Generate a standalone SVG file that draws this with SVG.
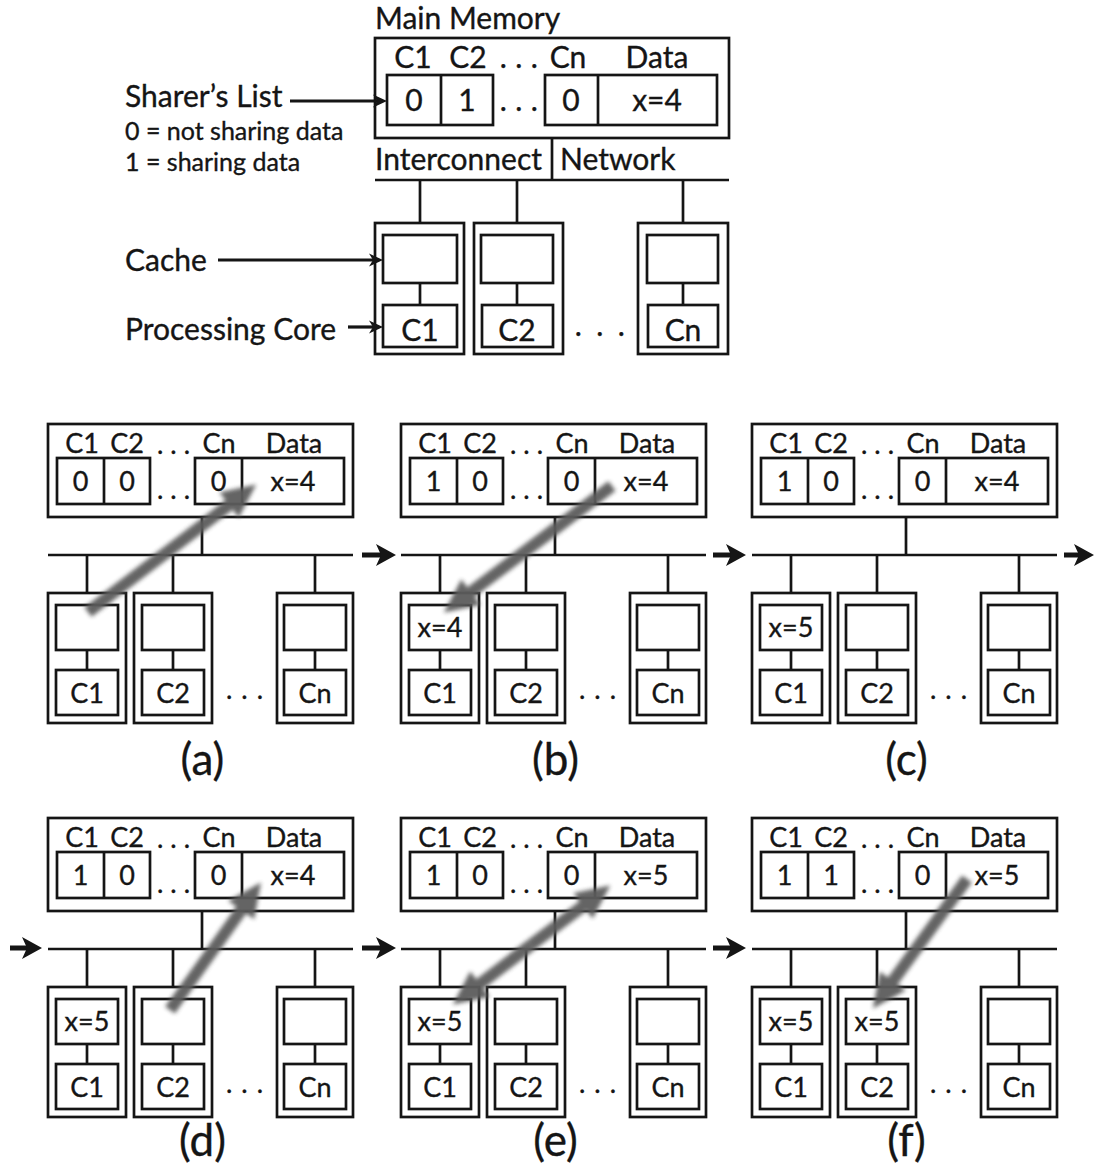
<svg xmlns="http://www.w3.org/2000/svg" width="1094" height="1176" viewBox="0 0 1094 1176">
<style>
.bx{fill:none;stroke:#151515;stroke-width:2.7}
.ln{fill:none;stroke:#151515;stroke-width:2.7}
.t{font-family:Lato,'Open Sans','Liberation Sans',sans-serif;fill:#151515;stroke:#151515;stroke-width:0.35}
.L{font-size:30px}
.S{font-size:25px}
.T{font-size:30px;text-anchor:middle}
.P{font-size:27px;text-anchor:middle}
.cap{font-size:44px;text-anchor:middle}
.d1{letter-spacing:8.5px}
.d2{letter-spacing:14.5px}
.d3{letter-spacing:7px}
.d4{letter-spacing:9px}
.ar{fill:none;stroke:#151515;stroke-width:3.2}
.big{fill:none;stroke:#151515;stroke-width:5}
.gr{fill:none;stroke:#5c5c5c;stroke-width:12}
</style>
<defs>
<marker id="mSmall" markerUnits="userSpaceOnUse" viewBox="0 0 14 14" markerWidth="14" markerHeight="14" refX="4" refY="7" orient="auto">
<path d="M0,0.5 L14,7 L0,13.5 L4,7 z" fill="#151515"/>
</marker>
<marker id="mBig" markerUnits="userSpaceOnUse" viewBox="0 0 20 22" markerWidth="20" markerHeight="22" refX="5" refY="11" orient="auto">
<path d="M0,0 L20,11 L0,22 L5,11 z" fill="#151515"/>
</marker>
<marker id="mGray" markerUnits="userSpaceOnUse" viewBox="0 0 34 32" markerWidth="34" markerHeight="32" refX="10" refY="16" orient="auto">
<path d="M0,0 L34,16 L0,32 z" fill="#5c5c5c"/>
</marker>
<filter id="soft" x="-20%" y="-20%" width="140%" height="140%">
<feGaussianBlur stdDeviation="2"/>
</filter>
</defs>
<rect width="1094" height="1176" fill="#fff"/>

<!-- ===== Top legend diagram ===== -->
<g id="legend">
<g id="legend-labels">
<text class="t L" x="125" y="107">Sharer’s List</text>
<text class="t S" x="125" y="140">0 = not sharing data</text>
<text class="t S" x="125" y="171">1 = sharing data</text>
<text class="t L" x="125" y="271">Cache</text>
<text class="t L" x="125" y="340">Processing Core</text>
</g>
<g id="top-memory">
<text class="t L" x="375" y="29">Main Memory</text>
<rect class="bx" x="375" y="38" width="354" height="100"/>
<text class="t T" x="413" y="68">C1</text>
<text class="t T" x="468" y="68">C2</text>
<text class="t T d1" x="523" y="68">...</text>
<text class="t T" x="568" y="68">Cn</text>
<text class="t T" x="657" y="68">Data</text>
<rect class="bx" x="387" y="75" width="106" height="50"/>
<line class="ln" x1="441" y1="75" x2="441" y2="125"/>
<rect class="bx" x="545" y="75" width="172" height="50"/>
<line class="ln" x1="598" y1="75" x2="598" y2="125"/>
<text class="t T" x="414" y="111">0</text>
<text class="t T" x="467" y="111">1</text>
<text class="t T d1" x="523" y="111">...</text>
<text class="t T" x="571" y="111">0</text>
<text class="t T" x="657" y="111">x=4</text>
</g>
<text class="t L" x="375" y="170">Interconnect</text>
<text class="t L" x="560" y="170">Network</text>
<g id="top-core1">
<rect class="bx" x="375" y="223" width="89" height="131"/>
<rect class="bx" x="383" y="235" width="74" height="48"/>
<rect class="bx" x="383" y="305" width="74" height="42"/>
<line class="ln" x1="420" y1="283" x2="420" y2="305"/>
<text class="t T" x="420" y="341">C1</text>
</g>
<g id="top-core2">
<rect class="bx" x="474" y="223" width="89" height="131"/>
<rect class="bx" x="481" y="235" width="72" height="48"/>
<rect class="bx" x="482" y="305" width="71" height="42"/>
<line class="ln" x1="517" y1="283" x2="517" y2="305"/>
<text class="t T" x="517" y="341">C2</text>
</g>
<text class="t T d2" x="607" y="336">...</text>
<g id="top-coren">
<rect class="bx" x="638" y="223" width="90" height="131"/>
<rect class="bx" x="647" y="235" width="71" height="48"/>
<rect class="bx" x="648" y="305" width="70" height="42"/>
<line class="ln" x1="683" y1="283" x2="683" y2="305"/>
<text class="t T" x="683" y="341">Cn</text>
</g>
<g id="top-connectors">
<line class="ln" x1="552" y1="138" x2="552" y2="180"/>
<line class="ln" x1="375" y1="180" x2="729" y2="180"/>
<line class="ln" x1="420" y1="180" x2="420" y2="223"/>
<line class="ln" x1="517" y1="180" x2="517" y2="223"/>
<line class="ln" x1="683" y1="180" x2="683" y2="223"/>
<path class="ar" d="M290,101 H377" marker-end="url(#mSmall)"/>
<path class="ar" d="M218,260 H373" marker-end="url(#mSmall)"/>
<path class="ar" d="M348,327 H373" marker-end="url(#mSmall)"/>
</g>
</g>

<!-- ===== Panel (a) ===== -->
<g id="panel-a" transform="translate(48,424)">
<g id="a-memory">
<rect class="bx" x="0" y="0" width="305" height="93"/>
<text class="t P" x="34" y="29">C1</text><text class="t P" x="79" y="29">C2</text>
<text class="t P d3" x="129" y="30">...</text>
<text class="t P" x="171" y="29">Cn</text><text class="t P" x="246" y="29">Data</text>
<rect class="bx" x="9" y="34" width="93" height="46"/><line class="ln" x1="56" y1="34" x2="56" y2="80"/>
<rect class="bx" x="147" y="34" width="149" height="46"/><line class="ln" x1="194" y1="34" x2="194" y2="80"/>
<text class="t P" x="32.5" y="67">0</text><text class="t P" x="79" y="67">0</text>
<text class="t P d3" x="129" y="75">...</text>
<text class="t P" x="170.5" y="67">0</text><text class="t P" x="245" y="67">x=4</text>
</g>
<g id="a-core1"><rect class="bx" x="0" y="169" width="78" height="130"/><rect class="bx" x="8" y="181" width="62" height="45"/><rect class="bx" x="8" y="246" width="62" height="45"/><line class="ln" x1="39" y1="226" x2="39" y2="246"/><text class="t P" x="39" y="279">C1</text></g>
<g id="a-core2"><rect class="bx" x="86" y="169" width="78" height="130"/><rect class="bx" x="94" y="181" width="62" height="45"/><rect class="bx" x="94" y="246" width="62" height="45"/><line class="ln" x1="125" y1="226" x2="125" y2="246"/><text class="t P" x="125" y="279">C2</text></g>
<text class="t P d4" x="201" y="275">...</text>
<g id="a-coren"><rect class="bx" x="229" y="169" width="76" height="130"/><rect class="bx" x="236" y="181" width="62" height="45"/><rect class="bx" x="236" y="246" width="62" height="45"/><line class="ln" x1="267" y1="226" x2="267" y2="246"/><text class="t P" x="267" y="279">Cn</text></g>
<g id="a-links"><line class="ln" x1="154" y1="93" x2="154" y2="131"/><line class="ln" x1="0" y1="131" x2="305" y2="131"/><line class="ln" x1="39" y1="131" x2="39" y2="169"/><line class="ln" x1="125" y1="131" x2="125" y2="169"/><line class="ln" x1="267" y1="131" x2="267" y2="169"/></g>
<text class="t cap" x="154.5" y="351">(a)</text>
</g>

<!-- ===== Panel (b) ===== -->
<g id="panel-b" transform="translate(401,424)">
<g id="b-memory">
<rect class="bx" x="0" y="0" width="305" height="93"/>
<text class="t P" x="34" y="29">C1</text><text class="t P" x="79" y="29">C2</text>
<text class="t P d3" x="129" y="30">...</text>
<text class="t P" x="171" y="29">Cn</text><text class="t P" x="246" y="29">Data</text>
<rect class="bx" x="9" y="34" width="93" height="46"/><line class="ln" x1="56" y1="34" x2="56" y2="80"/>
<rect class="bx" x="147" y="34" width="149" height="46"/><line class="ln" x1="194" y1="34" x2="194" y2="80"/>
<text class="t P" x="32.5" y="67">1</text><text class="t P" x="79" y="67">0</text>
<text class="t P d3" x="129" y="75">...</text>
<text class="t P" x="170.5" y="67">0</text><text class="t P" x="245" y="67">x=4</text>
</g>
<g id="b-core1"><rect class="bx" x="0" y="169" width="78" height="130"/><rect class="bx" x="8" y="181" width="62" height="45"/><rect class="bx" x="8" y="246" width="62" height="45"/><line class="ln" x1="39" y1="226" x2="39" y2="246"/><text class="t P" x="39" y="213">x=4</text><text class="t P" x="39" y="279">C1</text></g>
<g id="b-core2"><rect class="bx" x="86" y="169" width="78" height="130"/><rect class="bx" x="94" y="181" width="62" height="45"/><rect class="bx" x="94" y="246" width="62" height="45"/><line class="ln" x1="125" y1="226" x2="125" y2="246"/><text class="t P" x="125" y="279">C2</text></g>
<text class="t P d4" x="201" y="275">...</text>
<g id="b-coren"><rect class="bx" x="229" y="169" width="76" height="130"/><rect class="bx" x="236" y="181" width="62" height="45"/><rect class="bx" x="236" y="246" width="62" height="45"/><line class="ln" x1="267" y1="226" x2="267" y2="246"/><text class="t P" x="267" y="279">Cn</text></g>
<g id="b-links"><line class="ln" x1="154" y1="93" x2="154" y2="131"/><line class="ln" x1="0" y1="131" x2="305" y2="131"/><line class="ln" x1="39" y1="131" x2="39" y2="169"/><line class="ln" x1="125" y1="131" x2="125" y2="169"/><line class="ln" x1="267" y1="131" x2="267" y2="169"/></g>
<text class="t cap" x="154.5" y="351">(b)</text>
</g>

<!-- ===== Panel (c) ===== -->
<g id="panel-c" transform="translate(752,424)">
<g id="c-memory">
<rect class="bx" x="0" y="0" width="305" height="93"/>
<text class="t P" x="34" y="29">C1</text><text class="t P" x="79" y="29">C2</text>
<text class="t P d3" x="129" y="30">...</text>
<text class="t P" x="171" y="29">Cn</text><text class="t P" x="246" y="29">Data</text>
<rect class="bx" x="9" y="34" width="93" height="46"/><line class="ln" x1="56" y1="34" x2="56" y2="80"/>
<rect class="bx" x="147" y="34" width="149" height="46"/><line class="ln" x1="194" y1="34" x2="194" y2="80"/>
<text class="t P" x="32.5" y="67">1</text><text class="t P" x="79" y="67">0</text>
<text class="t P d3" x="129" y="75">...</text>
<text class="t P" x="170.5" y="67">0</text><text class="t P" x="245" y="67">x=4</text>
</g>
<g id="c-core1"><rect class="bx" x="0" y="169" width="78" height="130"/><rect class="bx" x="8" y="181" width="62" height="45"/><rect class="bx" x="8" y="246" width="62" height="45"/><line class="ln" x1="39" y1="226" x2="39" y2="246"/><text class="t P" x="39" y="213">x=5</text><text class="t P" x="39" y="279">C1</text></g>
<g id="c-core2"><rect class="bx" x="86" y="169" width="78" height="130"/><rect class="bx" x="94" y="181" width="62" height="45"/><rect class="bx" x="94" y="246" width="62" height="45"/><line class="ln" x1="125" y1="226" x2="125" y2="246"/><text class="t P" x="125" y="279">C2</text></g>
<text class="t P d4" x="201" y="275">...</text>
<g id="c-coren"><rect class="bx" x="229" y="169" width="76" height="130"/><rect class="bx" x="236" y="181" width="62" height="45"/><rect class="bx" x="236" y="246" width="62" height="45"/><line class="ln" x1="267" y1="226" x2="267" y2="246"/><text class="t P" x="267" y="279">Cn</text></g>
<g id="c-links"><line class="ln" x1="154" y1="93" x2="154" y2="131"/><line class="ln" x1="0" y1="131" x2="305" y2="131"/><line class="ln" x1="39" y1="131" x2="39" y2="169"/><line class="ln" x1="125" y1="131" x2="125" y2="169"/><line class="ln" x1="267" y1="131" x2="267" y2="169"/></g>
<text class="t cap" x="154.5" y="351">(c)</text>
</g>

<!-- ===== Panel (d) ===== -->
<g id="panel-d" transform="translate(48,818)">
<g id="d-memory">
<rect class="bx" x="0" y="0" width="305" height="93"/>
<text class="t P" x="34" y="29">C1</text><text class="t P" x="79" y="29">C2</text>
<text class="t P d3" x="129" y="30">...</text>
<text class="t P" x="171" y="29">Cn</text><text class="t P" x="246" y="29">Data</text>
<rect class="bx" x="9" y="34" width="93" height="46"/><line class="ln" x1="56" y1="34" x2="56" y2="80"/>
<rect class="bx" x="147" y="34" width="149" height="46"/><line class="ln" x1="194" y1="34" x2="194" y2="80"/>
<text class="t P" x="32.5" y="67">1</text><text class="t P" x="79" y="67">0</text>
<text class="t P d3" x="129" y="75">...</text>
<text class="t P" x="170.5" y="67">0</text><text class="t P" x="245" y="67">x=4</text>
</g>
<g id="d-core1"><rect class="bx" x="0" y="169" width="78" height="130"/><rect class="bx" x="8" y="181" width="62" height="45"/><rect class="bx" x="8" y="246" width="62" height="45"/><line class="ln" x1="39" y1="226" x2="39" y2="246"/><text class="t P" x="39" y="213">x=5</text><text class="t P" x="39" y="279">C1</text></g>
<g id="d-core2"><rect class="bx" x="86" y="169" width="78" height="130"/><rect class="bx" x="94" y="181" width="62" height="45"/><rect class="bx" x="94" y="246" width="62" height="45"/><line class="ln" x1="125" y1="226" x2="125" y2="246"/><text class="t P" x="125" y="279">C2</text></g>
<text class="t P d4" x="201" y="275">...</text>
<g id="d-coren"><rect class="bx" x="229" y="169" width="76" height="130"/><rect class="bx" x="236" y="181" width="62" height="45"/><rect class="bx" x="236" y="246" width="62" height="45"/><line class="ln" x1="267" y1="226" x2="267" y2="246"/><text class="t P" x="267" y="279">Cn</text></g>
<g id="d-links"><line class="ln" x1="154" y1="93" x2="154" y2="131"/><line class="ln" x1="0" y1="131" x2="305" y2="131"/><line class="ln" x1="39" y1="131" x2="39" y2="169"/><line class="ln" x1="125" y1="131" x2="125" y2="169"/><line class="ln" x1="267" y1="131" x2="267" y2="169"/></g>
<text class="t cap" x="154.5" y="338">(d)</text>
</g>

<!-- ===== Panel (e) ===== -->
<g id="panel-e" transform="translate(401,818)">
<g id="e-memory">
<rect class="bx" x="0" y="0" width="305" height="93"/>
<text class="t P" x="34" y="29">C1</text><text class="t P" x="79" y="29">C2</text>
<text class="t P d3" x="129" y="30">...</text>
<text class="t P" x="171" y="29">Cn</text><text class="t P" x="246" y="29">Data</text>
<rect class="bx" x="9" y="34" width="93" height="46"/><line class="ln" x1="56" y1="34" x2="56" y2="80"/>
<rect class="bx" x="147" y="34" width="149" height="46"/><line class="ln" x1="194" y1="34" x2="194" y2="80"/>
<text class="t P" x="32.5" y="67">1</text><text class="t P" x="79" y="67">0</text>
<text class="t P d3" x="129" y="75">...</text>
<text class="t P" x="170.5" y="67">0</text><text class="t P" x="245" y="67">x=5</text>
</g>
<g id="e-core1"><rect class="bx" x="0" y="169" width="78" height="130"/><rect class="bx" x="8" y="181" width="62" height="45"/><rect class="bx" x="8" y="246" width="62" height="45"/><line class="ln" x1="39" y1="226" x2="39" y2="246"/><text class="t P" x="39" y="213">x=5</text><text class="t P" x="39" y="279">C1</text></g>
<g id="e-core2"><rect class="bx" x="86" y="169" width="78" height="130"/><rect class="bx" x="94" y="181" width="62" height="45"/><rect class="bx" x="94" y="246" width="62" height="45"/><line class="ln" x1="125" y1="226" x2="125" y2="246"/><text class="t P" x="125" y="279">C2</text></g>
<text class="t P d4" x="201" y="275">...</text>
<g id="e-coren"><rect class="bx" x="229" y="169" width="76" height="130"/><rect class="bx" x="236" y="181" width="62" height="45"/><rect class="bx" x="236" y="246" width="62" height="45"/><line class="ln" x1="267" y1="226" x2="267" y2="246"/><text class="t P" x="267" y="279">Cn</text></g>
<g id="e-links"><line class="ln" x1="154" y1="93" x2="154" y2="131"/><line class="ln" x1="0" y1="131" x2="305" y2="131"/><line class="ln" x1="39" y1="131" x2="39" y2="169"/><line class="ln" x1="125" y1="131" x2="125" y2="169"/><line class="ln" x1="267" y1="131" x2="267" y2="169"/></g>
<text class="t cap" x="154.5" y="338">(e)</text>
</g>

<!-- ===== Panel (f) ===== -->
<g id="panel-f" transform="translate(752,818)">
<g id="f-memory">
<rect class="bx" x="0" y="0" width="305" height="93"/>
<text class="t P" x="34" y="29">C1</text><text class="t P" x="79" y="29">C2</text>
<text class="t P d3" x="129" y="30">...</text>
<text class="t P" x="171" y="29">Cn</text><text class="t P" x="246" y="29">Data</text>
<rect class="bx" x="9" y="34" width="93" height="46"/><line class="ln" x1="56" y1="34" x2="56" y2="80"/>
<rect class="bx" x="147" y="34" width="149" height="46"/><line class="ln" x1="194" y1="34" x2="194" y2="80"/>
<text class="t P" x="32.5" y="67">1</text><text class="t P" x="79" y="67">1</text>
<text class="t P d3" x="129" y="75">...</text>
<text class="t P" x="170.5" y="67">0</text><text class="t P" x="245" y="67">x=5</text>
</g>
<g id="f-core1"><rect class="bx" x="0" y="169" width="78" height="130"/><rect class="bx" x="8" y="181" width="62" height="45"/><rect class="bx" x="8" y="246" width="62" height="45"/><line class="ln" x1="39" y1="226" x2="39" y2="246"/><text class="t P" x="39" y="213">x=5</text><text class="t P" x="39" y="279">C1</text></g>
<g id="f-core2"><rect class="bx" x="86" y="169" width="78" height="130"/><rect class="bx" x="94" y="181" width="62" height="45"/><rect class="bx" x="94" y="246" width="62" height="45"/><line class="ln" x1="125" y1="226" x2="125" y2="246"/><text class="t P" x="125" y="213">x=5</text><text class="t P" x="125" y="279">C2</text></g>
<text class="t P d4" x="201" y="275">...</text>
<g id="f-coren"><rect class="bx" x="229" y="169" width="76" height="130"/><rect class="bx" x="236" y="181" width="62" height="45"/><rect class="bx" x="236" y="246" width="62" height="45"/><line class="ln" x1="267" y1="226" x2="267" y2="246"/><text class="t P" x="267" y="279">Cn</text></g>
<g id="f-links"><line class="ln" x1="154" y1="93" x2="154" y2="131"/><line class="ln" x1="0" y1="131" x2="305" y2="131"/><line class="ln" x1="39" y1="131" x2="39" y2="169"/><line class="ln" x1="125" y1="131" x2="125" y2="169"/><line class="ln" x1="267" y1="131" x2="267" y2="169"/></g>
<text class="t cap" x="154.5" y="338">(f)</text>
</g>

<!-- ===== Connectors between panels and data-flow arrows ===== -->
<g id="connectors">
<path class="big" d="M362,555 H381" marker-end="url(#mBig)"/>
<path class="big" d="M713,555 H731" marker-end="url(#mBig)"/>
<path class="big" d="M1064,555 H1079" marker-end="url(#mBig)"/>
<path class="big" d="M10,948 H27" marker-end="url(#mBig)"/>
<path class="big" d="M362,948 H381" marker-end="url(#mBig)"/>
<path class="big" d="M713,948 H731" marker-end="url(#mBig)"/>
<g filter="url(#soft)" opacity="0.95">
<path class="gr" d="M88,612 L237,499" marker-end="url(#mGray)"/>
<path class="gr" d="M612,486 L463,598" marker-end="url(#mGray)"/>
<path class="gr" d="M170,1010 L247,902" marker-end="url(#mGray)"/>
<path class="gr" d="M531,945 L591,900" marker-end="url(#mGray)"/>
<path class="gr" d="M531,945 L472,990" marker-end="url(#mGray)"/>
<path class="gr" d="M967,879 L887,989" marker-end="url(#mGray)"/>
</g>
</g>
</svg>
